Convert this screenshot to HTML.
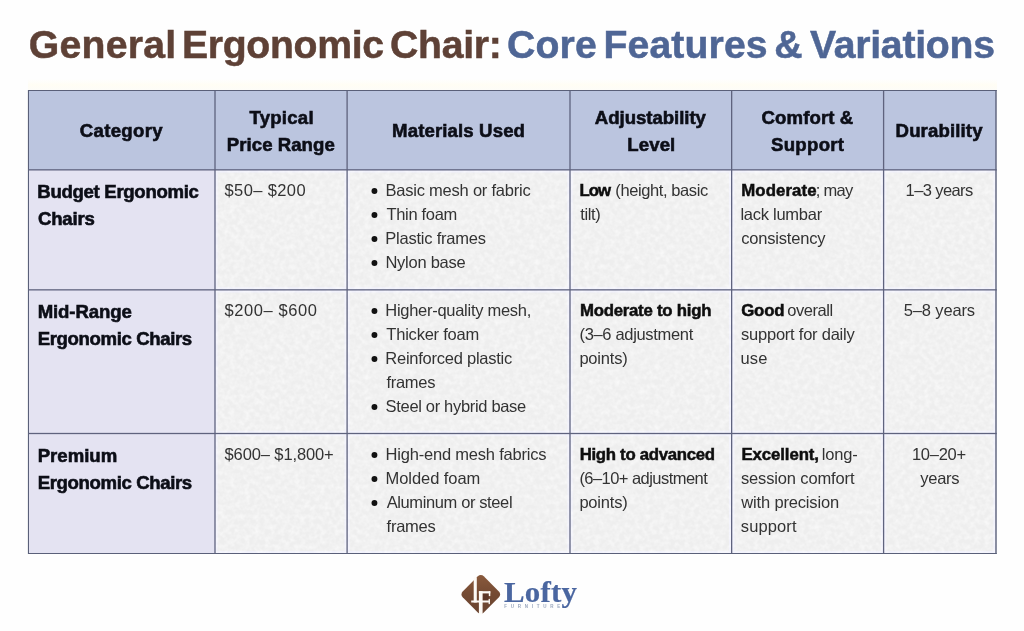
<!DOCTYPE html>
<html><head><meta charset="utf-8"><title>General Ergonomic Chair: Core Features &amp; Variations</title>
<style>
html,body{margin:0;padding:0;}
body{width:1024px;height:631px;position:relative;overflow:hidden;background:#fefefe;font-family:"Liberation Sans",sans-serif;}
.a{position:absolute;}
.t{position:absolute;white-space:nowrap;}
.t1{font-size:39.2px;font-weight:700;color:#5e4136;line-height:60px;height:60px;-webkit-text-stroke:0.5px #5e4136;}
.t2{font-size:39.2px;font-weight:700;color:#4f6695;line-height:60px;height:60px;-webkit-text-stroke:0.5px #4f6695;}
.h{font-size:18.6px;font-weight:700;color:#0c0e17;line-height:40px;height:40px;-webkit-text-stroke:0.6px #0c0e17;}
.b{font-size:18.6px;font-weight:700;color:#0c0e17;line-height:40px;height:40px;-webkit-text-stroke:0.6px #0c0e17;}
.bb{font-size:16.8px;font-weight:700;color:#0e0e0e;line-height:40px;height:40px;-webkit-text-stroke:0.5px #0e0e0e;}
.r{font-size:16.5px;font-weight:400;color:#333333;line-height:40px;height:40px;}
.lg{font-size:28.6px;font-weight:700;color:#4a66a0;line-height:40px;height:40px;-webkit-text-stroke:0.2px #4a66a0;font-family:'Liberation Serif',serif;transform:scaleX(1.08);transform-origin:0 0;}
.lf{font-size:4.5px;font-weight:700;color:#99a6bd;line-height:10px;height:10px;}
</style></head><body>
<div class="a" style="left:28px;top:79px;width:969px;height:11px;background:linear-gradient(#fefefe,#fffdf4 55%,#fdfcf8)"></div>
<div class="a" style="left:28px;top:90px;width:968px;height:80px;background:#bbc5df"></div>
<div class="a" style="left:28px;top:170px;width:187px;height:384px;background:#e4e3f2"></div>
<div class="a" style="left:215px;top:170px;width:781px;height:384px;background:#f1f1fb"></div>
<svg class="a" style="left:0;top:0" width="1024" height="631" viewBox="0 0 1024 631"><filter id="nz" x="0" y="0" width="100%" height="100%"><feTurbulence type="fractalNoise" baseFrequency="0.2" numOctaves="2" seed="7"/><feColorMatrix type="matrix" values="0 0 0 0 1  0 0 0 0 1  0 0 0 0 1  1.6 0 0 0 -0.55"/></filter><g fill="#eeeeee">
<rect x="217.7" y="172.6" width="126.7" height="114.6"/>
<rect x="217.7" y="292.6" width="126.7" height="138.2"/>
<rect x="217.7" y="436.2" width="126.7" height="114.8"/>
<rect x="349.8" y="172.6" width="217.5" height="114.6"/>
<rect x="349.8" y="292.6" width="217.5" height="138.2"/>
<rect x="349.8" y="436.2" width="217.5" height="114.8"/>
<rect x="572.7" y="172.6" width="156.3" height="114.6"/>
<rect x="572.7" y="292.6" width="156.3" height="138.2"/>
<rect x="572.7" y="436.2" width="156.3" height="114.8"/>
<rect x="734.4" y="172.6" width="146.5" height="114.6"/>
<rect x="734.4" y="292.6" width="146.5" height="138.2"/>
<rect x="734.4" y="436.2" width="146.5" height="114.8"/>
<rect x="886.3" y="172.6" width="107.0" height="114.6"/>
<rect x="886.3" y="292.6" width="107.0" height="138.2"/>
<rect x="886.3" y="436.2" width="107.0" height="114.8"/>
</g><rect x="215" y="170" width="781" height="384" filter="url(#nz)" opacity="0.7"/></svg>
<svg class="a" style="left:0;top:0" width="1024" height="631" viewBox="0 0 1024 631"><g fill="#5f637e">
<rect x="27.9" y="90" width="1.1" height="464" fill="#5a6079"/>
<rect x="214.35" y="90" width="1.3" height="464"/>
<rect x="346.45" y="90" width="1.3" height="464"/>
<rect x="569.35" y="90" width="1.3" height="464"/>
<rect x="731.0" y="90" width="1.3" height="464"/>
<rect x="882.95" y="90" width="1.3" height="464"/>
<rect x="995.3" y="90" width="1.4" height="464" fill="#5a6079"/>
<rect x="28" y="90" width="968.7" height="1" fill="#5a6079"/>
<rect x="28" y="169.2" width="968.7" height="1.3"/>
<rect x="28" y="289.2" width="968.7" height="1.3"/>
<rect x="28" y="432.85" width="968.7" height="1.3"/>
<rect x="28" y="553" width="968.7" height="1" fill="#5a6079"/>
</g></svg>
<svg class="a" style="left:0;top:0" width="1024" height="631" viewBox="0 0 1024 631"><g fill="#121212">
<circle cx="374.45" cy="190.95" r="2.95"/>
<circle cx="374.45" cy="214.95" r="2.95"/>
<circle cx="374.45" cy="238.95" r="2.95"/>
<circle cx="374.45" cy="262.95" r="2.95"/>
<circle cx="374.45" cy="310.95" r="2.95"/>
<circle cx="374.45" cy="334.95" r="2.95"/>
<circle cx="374.45" cy="358.95" r="2.95"/>
<circle cx="374.45" cy="406.95" r="2.95"/>
<circle cx="374.45" cy="454.95" r="2.95"/>
<circle cx="374.45" cy="478.95" r="2.95"/>
<circle cx="374.45" cy="502.95" r="2.95"/>
</g></svg>
<div class="a" style="left:0;top:0;width:1024px;height:631px;will-change:transform">
<span class="t t1" style="left:28.7px;top:14.55px;letter-spacing:0.271px;">General</span>
<span class="t t1" style="left:182.01px;top:14.55px;letter-spacing:-0.324px;">Ergonomic</span>
<span class="t t1" style="left:389.98px;top:14.55px;letter-spacing:-0.278px;">Chair:</span>
<span class="t t2" style="left:506.99px;top:14.55px;letter-spacing:0.198px;">Core</span>
<span class="t t2" style="left:603.44px;top:14.55px;letter-spacing:0.125px;">Features</span>
<span class="t t2" style="left:774.2px;top:14.55px;">&amp;</span>
<span class="t t2" style="left:809.98px;top:14.55px;letter-spacing:-0.252px;">Variations</span>
<span class="t h" style="left:79.82px;top:110.55px;letter-spacing:0.302px;">Category</span>
<span class="t h" style="left:249.48px;top:97.55px;letter-spacing:0.231px;">Typical</span>
<span class="t h" style="left:226.81px;top:124.55px;letter-spacing:0.048px;">Price Range</span>
<span class="t h" style="left:392.06px;top:110.55px;letter-spacing:0.13px;">Materials Used</span>
<span class="t h" style="left:594.79px;top:97.55px;letter-spacing:-0.033px;">Adjustability</span>
<span class="t h" style="left:627.28px;top:124.55px;letter-spacing:0.11px;">Level</span>
<span class="t h" style="left:761.53px;top:97.55px;letter-spacing:0.104px;">Comfort &amp;</span>
<span class="t h" style="left:771.0px;top:124.55px;letter-spacing:0.299px;">Support</span>
<span class="t h" style="left:895.57px;top:110.55px;letter-spacing:0.136px;">Durability</span>
<span class="t b" style="left:37.27px;top:171.55px;letter-spacing:-0.309px;">Budget Ergonomic</span>
<span class="t b" style="left:37.98px;top:198.55px;letter-spacing:-0.215px;">Chairs</span>
<span class="t r" style="left:224.52px;top:170.05px;letter-spacing:0.381px;">$50– $200</span>
<span class="t r" style="left:385.46px;top:170.05px;letter-spacing:-0.219px;">Basic mesh or fabric</span>
<span class="t r" style="left:386.46px;top:194.05px;letter-spacing:-0.309px;">Thin foam</span>
<span class="t r" style="left:385.32px;top:218.05px;letter-spacing:-0.226px;">Plastic frames</span>
<span class="t r" style="left:385.39px;top:242.05px;letter-spacing:-0.246px;">Nylon base</span>
<span class="t bb" style="left:579.4px;top:170.55px;letter-spacing:-0.95px;">Low</span>
<span class="t r" style="left:615.35px;top:170.05px;letter-spacing:-0.409px;">(height, basic</span>
<span class="t r" style="left:580.17px;top:194.05px;letter-spacing:-0.341px;">tilt)</span>
<span class="t bb" style="left:741.31px;top:170.55px;letter-spacing:0.09px;">Moderate</span>
<span class="t r" style="left:815.67px;top:170.05px;letter-spacing:-0.679px;">; may</span>
<span class="t r" style="left:740.43px;top:194.05px;letter-spacing:-0.265px;">lack lumbar</span>
<span class="t r" style="left:741.15px;top:218.05px;letter-spacing:-0.187px;">consistency</span>
<span class="t r" style="left:905.62px;top:170.05px;letter-spacing:-0.617px;">1–3 years</span>
<span class="t b" style="left:37.66px;top:291.55px;letter-spacing:-0.1px;">Mid-Range</span>
<span class="t b" style="left:37.66px;top:318.55px;letter-spacing:-0.375px;">Ergonomic Chairs</span>
<span class="t r" style="left:224.5px;top:290.05px;letter-spacing:0.58px;">$200– $600</span>
<span class="t r" style="left:385.31px;top:290.05px;letter-spacing:-0.281px;">Higher-quality mesh,</span>
<span class="t r" style="left:386.36px;top:314.05px;letter-spacing:-0.225px;">Thicker foam</span>
<span class="t r" style="left:385.35px;top:338.05px;letter-spacing:-0.251px;">Reinforced plastic</span>
<span class="t r" style="left:386.46px;top:362.05px;letter-spacing:-0.291px;">frames</span>
<span class="t r" style="left:385.59px;top:386.05px;letter-spacing:-0.323px;">Steel or hybrid base</span>
<span class="t bb" style="left:579.9px;top:290.55px;letter-spacing:-0.243px;">Moderate to high</span>
<span class="t r" style="left:579.53px;top:314.05px;letter-spacing:-0.33px;">(3–6 adjustment</span>
<span class="t r" style="left:579.4px;top:338.05px;letter-spacing:-0.208px;">points)</span>
<span class="t bb" style="left:741.21px;top:290.55px;letter-spacing:-0.183px;">Good</span>
<span class="t r" style="left:787.28px;top:290.05px;letter-spacing:-0.47px;">overall</span>
<span class="t r" style="left:741.06px;top:314.05px;letter-spacing:-0.232px;">support for daily</span>
<span class="t r" style="left:740.51px;top:338.05px;letter-spacing:0.101px;">use</span>
<span class="t r" style="left:903.78px;top:290.05px;letter-spacing:-0.138px;">5–8 years</span>
<span class="t b" style="left:37.72px;top:435.55px;letter-spacing:-0.019px;">Premium</span>
<span class="t b" style="left:37.66px;top:462.55px;letter-spacing:-0.375px;">Ergonomic Chairs</span>
<span class="t r" style="left:224.53px;top:434.05px;letter-spacing:-0.111px;">$600– $1,800+</span>
<span class="t r" style="left:385.51px;top:434.05px;letter-spacing:-0.198px;">High-end mesh fabrics</span>
<span class="t r" style="left:385.54px;top:458.05px;letter-spacing:-0.067px;">Molded foam</span>
<span class="t r" style="left:386.69px;top:482.05px;letter-spacing:-0.387px;">Aluminum or steel</span>
<span class="t r" style="left:386.61px;top:506.05px;letter-spacing:-0.271px;">frames</span>
<span class="t bb" style="left:579.66px;top:434.55px;letter-spacing:-0.296px;">High to advanced</span>
<span class="t r" style="left:579.38px;top:458.05px;letter-spacing:-0.544px;">(6–10+ adjustment</span>
<span class="t r" style="left:579.4px;top:482.05px;letter-spacing:-0.208px;">points)</span>
<span class="t bb" style="left:741.49px;top:434.55px;letter-spacing:-0.093px;">Excellent,</span>
<span class="t r" style="left:821.64px;top:434.05px;letter-spacing:-0.116px;">long-</span>
<span class="t r" style="left:740.88px;top:458.05px;letter-spacing:-0.136px;">session comfort</span>
<span class="t r" style="left:741.36px;top:482.05px;letter-spacing:-0.171px;">with precision</span>
<span class="t r" style="left:740.83px;top:506.05px;letter-spacing:0.101px;">support</span>
<span class="t r" style="left:911.98px;top:434.05px;letter-spacing:-0.284px;">10–20+</span>
<span class="t r" style="left:920.22px;top:458.05px;letter-spacing:-0.242px;">years</span>
<span class="t lg" style="left:504.21px;top:572.55px;letter-spacing:0.203px;">Lofty</span>
<span class="t lf" style="left:504.32px;top:601.55px;letter-spacing:3.734px;">FURNITURE</span>
</div>
<svg class="a" style="left:455px;top:568px" width="50" height="52" viewBox="455 568 50 52">
<defs><linearGradient id="wd" x1="0" y1="0" x2="1" y2="1"><stop offset="0" stop-color="#8b5b3d"/><stop offset="0.5" stop-color="#744a33"/><stop offset="1" stop-color="#69432f"/></linearGradient></defs>
<rect x="465.9" y="579.5" width="29.8" height="29.8" rx="4.2" fill="url(#wd)" transform="rotate(45 480.8 594.4)"/>
<rect x="482.6" y="593.4" width="6.2" height="7.1" fill="#5e3828"/>
<g fill="#fdfaf6">
<rect x="473.7" y="577.5" width="3.1" height="25"/>
<rect x="471.2" y="600.5" width="18.7" height="2"/>
<rect x="478.9" y="591.2" width="3.7" height="23"/>
<rect x="478.9" y="591.2" width="11.4" height="2.2"/>
<rect x="488.8" y="591.2" width="1.5" height="4.9"/>
<rect x="488.6" y="598.9" width="1.3" height="5.2"/>
</g>
</svg>
</body></html>
